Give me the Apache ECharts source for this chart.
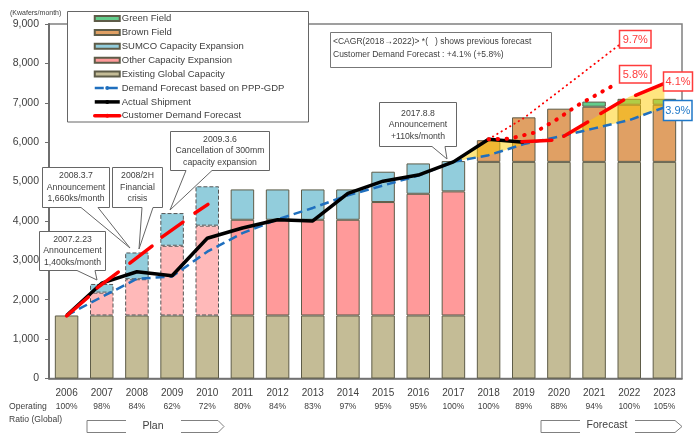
<!DOCTYPE html>
<html>
<head>
<meta charset="utf-8">
<style>html,body{margin:0;padding:0;background:#fff}#chart{width:700px;height:443px}</style>
<script src="https://cdn.jsdelivr.net/npm/echarts@6/dist/echarts.min.js"></script>
</head>
<body>
<div id="chart"></div>
<script>
var years = ['2006','2007','2008','2009','2010','2011','2012','2013','2014','2015','2016','2017','2018','2019','2020','2021','2022','2023']
var ratios = ['100%','98%','84%','62%','72%','80%','84%','83%','97%','95%','95%','100%','100%','89%','88%','94%','100%','105%']

// stacked bar pieces, Kwafers/month
var existing = [1600,1600,1600,1600,1600,1600,1600,1600,1600,1600,1600,1600,5500,5500,5500,5500,5500,5500]
var other = [null,580,920,1770,2280,2430,2430,2430,2430,2880,3090,3150,null,null,null,null,null,null]
var sumco = [null,220,680,830,1000,770,770,770,770,770,770,770,null,null,null,null,null,null]
var brown = [null,null,null,null,null,null,null,null,null,null,null,null,550,1130,1350,1400,1450,1450]
var green = [null,null,null,null,null,null,null,null,null,null,null,null,null,null,null,130,150,150]

var actual = [1600,2420,2710,2610,3560,3820,4030,4000,4700,5010,5165,5500,6075,6000,null,null,null,null]
var gdpForecast = [1600,2070,2530,2590,3220,3690,4040,4330,4650,4900,5150,5500,5670,5950,6140,6350,6560,6885]
var wedgeTop = [null,null,null,null,null,null,null,null,null,null,null,5500,6075,6000,6140,6615,7150,7480]
var wedgeBottom = [null,null,null,null,null,null,null,null,null,null,null,5500,5670,5950,6140,6350,6560,6885]

// customer forecast runs, [year, value]
var customerRuns = [
	[[2006,1590],[2006.62,2070]],
	[[2006.87,2300],[2007.47,2700]],
	[[2007.8,2930],[2008.43,3360]],
	[[2008.71,3590],[2009.31,3970]],
	[[2009.65,4200],[2010.02,4420]],
	[[2018.95,6010],[2019.8,6050]],
	[[2020.14,6150],[2020.82,6510]],
	[[2021.19,6730],[2021.84,7070]],
	[[2022.18,7190],[2022.95,7475]]
]
var prevForecast58 = [[2018,6075],[2018.6,6090],[2019.3,6240],[2020,6610],[2020.5,6920],[2021.65,7490]]
var prevForecast97 = [[2018,6075],[2019,6610],[2020.35,7530],[2021.7,8460]]

var font = '"Liberation Sans", Arial, sans-serif'
var lineColor = '#5e5c48'
var customer = []
customerRuns.forEach(function(run) {
	customer = customer.concat(run)
	customer.push([NaN, NaN])
})

function bar(name, values, color, planColor) {
	return {
		name: name,
		type: 'bar',
		stack: 'cap',
		barWidth: 23.5,
		z: 2,
		itemStyle: {color: color, borderColor: lineColor, borderWidth: 1},
		data: values.map(function(v, i) {
			// 2007-2010 were only planned: lighter, dashed
			if (planColor && i >= 1 && i <= 4) {
				return {value: v, itemStyle: {color: planColor, borderType: 'dashed', borderColor: '#555'}}
			}
			return v
		})
	}
}

function txt(x, y, text, size, color, align, extra) {
	var style = {x: x, y: y, text: text, fontSize: size, fontFamily: font, fill: color || '#404040', align: align || 'center', verticalAlign: 'middle', lineHeight: 11.5}
	return Object.assign({type: 'text', z: 12, style: style}, extra || {})
}

function callout(points, cx, cy, text) {
	return [
		{type: 'polygon', z: 11, shape: {points: points}, style: {fill: '#fff', stroke: '#666', lineWidth: 1}},
		txt(cx, cy, text, 8.7)
	]
}

function pctBox(x1, y1, x2, y2, text, color) {
	return [
		{type: 'rect', z: 11, shape: {x: x1, y: y1, width: x2 - x1, height: y2 - y1}, style: {fill: '#fff', stroke: color, lineWidth: 1.5}},
		txt((x1 + x2) / 2, (y1 + y2) / 2 + 0.5, text, 11, color)
	]
}

function arrowPart(points) {
	return {type: 'polyline', z: 11, shape: {points: points}, style: {fill: null, stroke: '#808080', lineWidth: 1}}
}

var graphics = [].concat(
	[{type: 'rect', z: 10, shape: {x: 67.5, y: 11.5, width: 241, height: 110.5}, style: {fill: '#fff', stroke: '#666', lineWidth: 1}}],
	[txt(10, 13.5, '(Kwafers/month)', 7, '#404040', 'left')],
	[{type: 'rect', z: 10, shape: {x: 330.5, y: 32.5, width: 221, height: 35}, style: {fill: '#fff', stroke: '#777', lineWidth: 1}}],
	[txt(333, 41.5, '<CAGR(2018\u21922022)> *(   ) shows previous forecast', 8.5, '#404040', 'left')],
	[txt(333, 54.5, 'Customer Demand Forecast : +4.1% (+5.8%)', 8.5, '#404040', 'left')],
	callout([[39.5,231.5],[105.5,231.5],[105.5,270.5],[95,270.5],[97,280],[77,270.5],[39.5,270.5]], 72.5, 251, '2007.2.23\nAnnouncement\n1,400ks/month'),
	callout([[42.5,167.5],[109.5,167.5],[109.5,207.5],[98,207.5],[130,248],[81,207.5],[42.5,207.5]], 76, 187.5, '2008.3.7\nAnnouncement\n1,660ks/month'),
	callout([[112.5,167.5],[162.5,167.5],[162.5,207.5],[153,207.5],[139,249],[142,207.5],[112.5,207.5]], 137.5, 187.5, '2008/2H\nFinancial\ncrisis'),
	callout([[170.5,131.5],[269.5,131.5],[269.5,170.5],[212,170.5],[170,210],[186,170.5],[170.5,170.5]], 220, 151, '2009.3.6\nCancellation of 300mm\ncapacity expansion'),
	callout([[379.5,102.5],[456.5,102.5],[456.5,146.5],[445,146.5],[447,159],[432,146.5],[379.5,146.5]], 418, 125, '2017.8.8\nAnnouncement\n+110ks/month'),
	pctBox(619.5, 30.5, 651, 48, '9.7%', '#ff3b3b'),
	pctBox(619.5, 65.5, 651, 83, '5.8%', '#ff3b3b'),
	pctBox(663.5, 72, 692.5, 91, '4.1%', '#ff3b3b'),
	pctBox(663.5, 100.5, 692, 120.5, '3.9%', '#1f78c8'),
	[txt(9, 407, 'Operating', 8.6, '#404040', 'left'), txt(9, 420, 'Ratio (Global)', 8.6, '#404040', 'left')],
	[arrowPart([[126,420.5],[87,420.5],[87,432.5],[126,432.5]]), arrowPart([[181,420.5],[218,420.5],[224,426.5],[218,432.5],[181,432.5]]), txt(153, 426, 'Plan', 10.5)],
	[arrowPart([[580,420.5],[541,420.5],[541,432.5],[580,432.5]]), arrowPart([[635,420.5],[675,420.5],[682,426.5],[675,432.5],[635,432.5]]), txt(607, 425, 'Forecast', 10.5)]
)

var myChart = echarts.init(document.getElementById('chart'), null, {renderer: 'canvas'})

var option = {
	animation: false,
	backgroundColor: '#fff',
	textStyle: {fontFamily: font},
	grid: {left: 49, top: 24, width: 633, height: 354.5, show: true, borderColor: '#808080', borderWidth: 1.5, backgroundColor: 'transparent'},
	legend: {
		left: 93,
		top: 13,
		orient: 'vertical',
		z: 20,
		padding: 0,
		itemWidth: 25,
		itemHeight: 5,
		itemGap: 2.9,
		textStyle: {fontSize: 9.5, color: '#404040', fontFamily: font, padding: [0, 0, 0, -3], height: 11, lineHeight: 11},
		data: [
			{name: 'Green Field', icon: 'rect'},
			{name: 'Brown Field', icon: 'rect'},
			{name: 'SUMCO Capacity Expansion', icon: 'rect'},
			{name: 'Other Capacity Expansion', icon: 'rect'},
			{name: 'Existing Global Capacity', icon: 'rect'},
			{name: 'Demand Forecast based on PPP-GDP', icon: 'inherit', lineStyle: {width: 2.5}},
			{name: 'Actual Shipment', icon: 'inherit', lineStyle: {width: 3.5}},
			{name: 'Customer Demand Forecast', icon: 'inherit', lineStyle: {width: 3.5}}
		]
	},
	xAxis: [
		{
			type: 'category',
			data: years,
			axisLine: {lineStyle: {color: '#6e6e6e', width: 1.5}},
			axisTick: {length: 4, lineStyle: {color: '#6e6e6e'}},
			axisLabel: {
				interval: 0,
				margin: 8,
				color: '#404040',
				fontFamily: font,
				formatter: function(value, i) { return '{y|' + value + '}\n{r|' + ratios[i] + '}' },
				rich: {y: {fontSize: 10, lineHeight: 14, fontFamily: font, color: '#404040'}, r: {fontSize: 8.5, lineHeight: 13, fontFamily: font, color: '#404040'}}
			}
		},
		{type: 'value', min: 2005.5, max: 2023.5, show: false}
	],
	yAxis: {
		type: 'value',
		min: 0,
		max: 9000,
		interval: 1000,
		splitLine: {show: false},
		axisLine: {show: true, lineStyle: {color: '#6e6e6e', width: 2}},
		axisTick: {show: true, length: 4, lineStyle: {color: '#6e6e6e'}},
		axisLabel: {fontSize: 10.5, color: '#404040', fontFamily: font, margin: 10, formatter: function(v) { return v.toLocaleString('en-US') }}
	},
	series: [
		bar('Existing Global Capacity', existing, '#c4bc96'),
		bar('Other Capacity Expansion', other, '#ff9a9a', '#ffb9b9'),
		bar('SUMCO Capacity Expansion', sumco, '#92cddc', '#92cddc'),
		bar('Brown Field', brown, '#e0a064'),
		bar('Green Field', green, '#62cc8c'),
		// yellow wedge between the two demand lines
		{type: 'line', stack: 'wedge', data: wedgeBottom, symbol: 'none', lineStyle: {width: 0}, z: 3, silent: true},
		{
			type: 'line',
			stack: 'wedge',
			data: wedgeTop.map(function(v, i) { return v === null ? null : v - wedgeBottom[i] }),
			symbol: 'none',
			lineStyle: {width: 0},
			areaStyle: {color: '#ffcc00', opacity: 0.5},
			z: 3,
			silent: true
		},
		{
			name: 'Demand Forecast based on PPP-GDP',
			type: 'line',
			data: gdpForecast,
			symbol: 'none',
			z: 4,
			lineStyle: {color: '#1f6fbe', width: 2.5, type: [9, 5]},
			itemStyle: {color: '#1f6fbe'}
		},
		{
			name: 'Actual Shipment',
			type: 'line',
			data: actual,
			symbol: 'none',
			z: 5,
			lineStyle: {color: '#000', width: 3.5},
			itemStyle: {color: '#000'}
		},
		{
			type: 'line',
			xAxisIndex: 1,
			data: prevForecast97,
			symbol: 'none',
			z: 6,
			lineStyle: {color: '#ff0000', width: 1.8, type: [0.5, 4.5], cap: 'round'}
		},
		{
			type: 'line',
			xAxisIndex: 1,
			data: prevForecast58,
			symbol: 'none',
			z: 6,
			lineStyle: {color: '#ff0000', width: 4, type: [0.5, 8.5], cap: 'round'}
		},
		{
			name: 'Customer Demand Forecast',
			type: 'line',
			xAxisIndex: 1,
			data: customer,
			symbol: 'none',
			z: 6,
			connectNulls: false,
			lineStyle: {color: '#ff0000', width: 3.5, cap: 'round'},
			itemStyle: {color: '#ff0000'}
		}
	],
	graphic: {elements: graphics}
}

myChart.setOption(option)
</script>
</body>
</html>
